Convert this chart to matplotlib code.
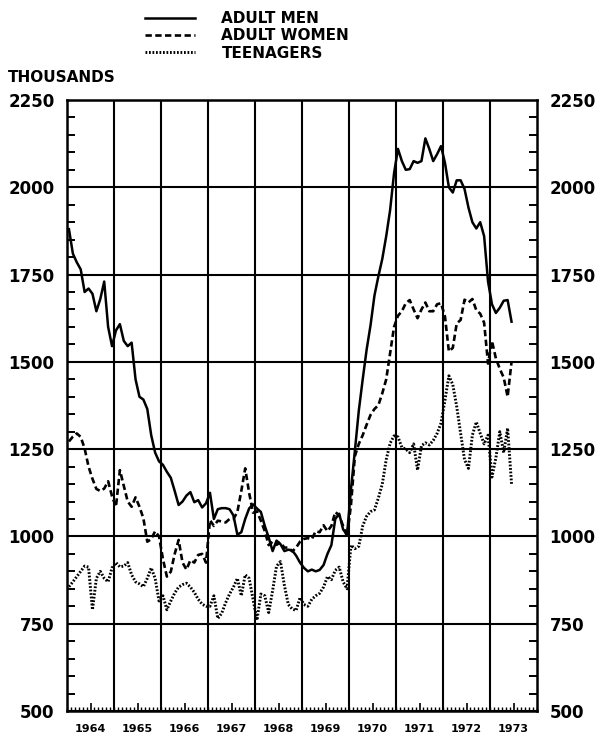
import numpy as np
import matplotlib
matplotlib.use("Agg")
import matplotlib.pyplot as plt
from matplotlib.ticker import MultipleLocator, FixedLocator

# === Data (thousands, monthly from Jan 1964) ===
men = [1880, 1810, 1785, 1765, 1700, 1710, 1695, 1645, 1680, 1730,
       1600, 1545, 1590, 1608, 1560, 1545, 1555, 1450, 1400, 1392,
       1365, 1290, 1240, 1215, 1205, 1185, 1168, 1130, 1090, 1100,
       1117, 1127, 1098, 1104, 1083, 1095, 1125, 1050, 1078, 1081,
       1081, 1078, 1060, 1005, 1012, 1050, 1080, 1092, 1080, 1070,
       1030, 997, 958, 988, 978, 958, 962, 960, 945, 925,
       910, 900, 905, 900, 904, 918, 950, 975, 1050, 1065,
       1020, 1005, 1135, 1245, 1360, 1450, 1535, 1605, 1690, 1745,
       1795, 1860, 1935, 2040, 2110, 2075, 2050, 2052, 2075, 2070,
       2075, 2140, 2110, 2075, 2095, 2118, 2070, 2000, 1985, 2020,
       2020, 1995, 1942, 1900, 1882, 1900, 1860, 1730, 1665, 1640,
       1655, 1675, 1677, 1615]

women = [1272, 1286, 1295, 1285, 1252, 1200, 1165, 1136, 1130, 1137,
         1158, 1115, 1085, 1190, 1145, 1100, 1085, 1112, 1085, 1052,
         985, 992, 1015, 1000, 935, 885, 899, 950, 990, 925,
         905, 932, 925, 947, 950, 925, 1047, 1030, 1045, 1043,
         1040, 1050, 1050, 1070, 1130, 1195, 1125, 1068, 1072, 1045,
         1015, 975, 985, 976, 983, 968, 968, 957, 968, 985,
         993, 995, 992, 1015, 1012, 1032, 1015, 1030, 1070, 1060,
         1030, 1000, 1090, 1230, 1265, 1290, 1320, 1348, 1365, 1376,
         1410, 1450, 1525, 1600, 1632, 1645, 1668, 1677, 1650, 1625,
         1650, 1670, 1645, 1645, 1665, 1668, 1630, 1530, 1540, 1610,
         1620, 1678, 1670, 1680, 1648, 1638, 1612, 1495, 1560, 1510,
         1480, 1455, 1400, 1500]

teens = [856, 870, 885, 900, 915, 912, 790, 880, 900, 880,
         870, 910, 925, 913, 915, 925, 890, 870, 864, 856,
         880, 910, 880, 815, 830, 790, 815, 838, 855, 862,
         866, 855, 840, 820, 806, 800, 800, 830, 765, 780,
         810, 835, 855, 880, 830, 890, 880, 820, 760, 835,
         830, 782, 845, 915, 928, 860, 805, 792, 788, 825,
         805, 800, 820, 830, 837, 855, 885, 876, 903, 912,
         870, 850, 975, 965, 972, 1030, 1058, 1071, 1076, 1110,
         1150, 1220, 1267, 1288, 1285, 1255, 1250, 1240, 1265, 1190,
         1260, 1268, 1262, 1275, 1295, 1325, 1390, 1460, 1435, 1372,
         1295, 1220, 1195, 1290, 1328, 1295, 1265, 1290, 1170, 1225,
         1300, 1240, 1310, 1150]

years = list(range(1964, 1974))
year_labels = [str(y) for y in years]
y_ticks = [500, 750, 1000, 1250, 1500, 1750, 2000, 2250]

# monthly positions in decimal years (mid-month)
t = 1964 + (np.arange(len(men)) + 0.5) / 12

# === Figure ===
fig = plt.figure(figsize=(5.97, 7.35), dpi=100)
ax = fig.add_axes([67 / 597, 24 / 735, 470 / 597, 611 / 735])

l1, = ax.plot(t, men, color="black", lw=1.8, solid_joinstyle="round", label="ADULT MEN")
l2, = ax.plot(t, women, color="black", lw=1.9, dashes=(2.4, 1.3), label="ADULT WOMEN")
l3, = ax.plot(t, teens, color="black", lw=2.1, dashes=(0.6, 0.6), label="TEENAGERS")

ax.set_xlim(1964, 1974)
ax.set_ylim(500, 2250)

# grid : year boundaries + 250 steps
ax.vlines(years[1:], 500, 2250, color="black", lw=1.5, zorder=1)
ax.set_yticks(y_ticks)
ax.yaxis.grid(True, color="black", lw=1.5)
ax.yaxis.set_minor_locator(MultipleLocator(50))

ax.xaxis.set_major_locator(FixedLocator([y + 0.5 for y in years]))
ax.set_xticklabels(year_labels)
ax.xaxis.set_minor_locator(MultipleLocator(1 / 12))

for s in ax.spines.values():
    s.set_linewidth(1.8)

ax.tick_params(axis="y", which="major", length=0, pad=9, labelright=True,
               labelsize=12)
ax.tick_params(axis="y", which="minor", direction="in", length=6, width=1.4,
               left=True, right=True)
ax.tick_params(axis="x", which="major", direction="in", length=6, width=1.2,
               pad=9, labelsize=8)
ax.tick_params(axis="x", which="minor", direction="in", length=3, width=1.0)

for lab in ax.get_yticklabels() + ax.get_xticklabels():
    lab.set_fontweight("bold")

fig.text(8 / 597, 1 - 78 / 735, "THOUSANDS", fontsize=11, fontweight="bold",
         ha="left", va="center")

fig.legend(handles=[l1, l2, l3], loc="upper left",
           bbox_to_anchor=(145 / 597, 1 - 11 / 735), frameon=False,
           borderpad=0, borderaxespad=0, handlelength=3.3, handletextpad=1.7,
           labelspacing=0.15, prop={"size": 11, "weight": "bold"})

fig.savefig("out.png", dpi=100)
